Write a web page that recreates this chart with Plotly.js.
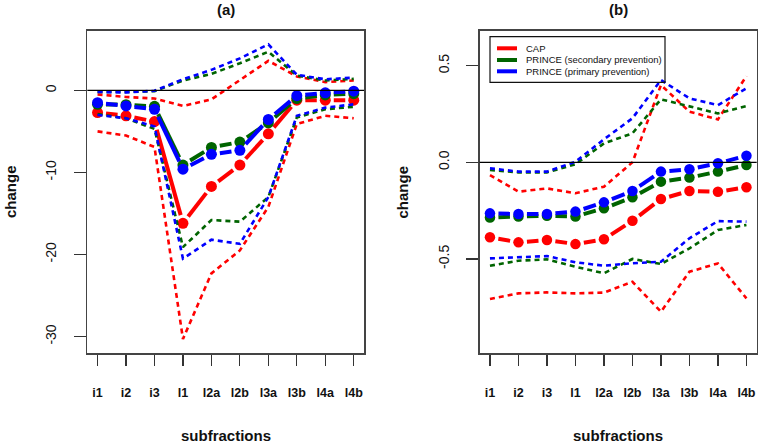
<!DOCTYPE html>
<html><head><meta charset="utf-8">
<script src="https://cdn.plot.ly/plotly-3.0.1.min.js"></script>
<style>html,body{margin:0;padding:0;background:#fff}#chart{width:759px;height:444px}</style>
</head><body><div id="chart"></div>
<script>
// ---------- data ----------
const subfractions = ['i1','i2','i3','l1','l2a','l2b','l3a','l3b','l4a','l4b'];
const seriesNames = ['CAP','PRINCE (secondary prevention)','PRINCE (primary prevention)'];
const seriesColors = ['#ff0000','#006400','#0000ff'];

// panel (a)
const a_cap_mean   = [-2.7, -3.1, -3.8, -16.2, -11.7, -9.1, -5.3, -1.2, -1.2, -1.2];
const a_cap_lo     = [-5.0, -5.5, -6.9, -30.3, -22.3, -19.5, -14.2, -4.1, -3.1, -3.4];
const a_cap_hi     = [-0.5, -0.8, -1.0, -1.9, -1.1, 1.3, 3.6, 1.7, 1.0, 1.2];
const a_sec_mean   = [-1.7, -1.75, -1.95, -9.1, -6.95, -6.3, -3.95, -1.0, -0.55, -0.4];
const a_sec_lo     = [-2.9, -3.4, -4.7, -19.1, -15.8, -16.0, -13.0, -3.3, -2.3, -2.0];
const a_sec_hi     = [-0.2, -0.2, -0.1, 1.2, 2.0, 3.3, 4.7, 1.8, 1.2, 1.4];
const a_pri_mean   = [-1.5, -1.9, -2.3, -9.6, -7.8, -7.3, -3.55, -0.65, -0.3, -0.1];
const a_pri_lo     = [-3.0, -3.4, -4.4, -20.5, -18.2, -18.7, -13.0, -3.1, -2.1, -1.7];
const a_pri_hi     = [-0.2, -0.25, -0.05, 1.35, 2.5, 3.9, 5.6, 1.9, 1.35, 1.55];

// panel (b)
const b_cap_mean   = [-0.388, -0.414, -0.402, -0.423, -0.398, -0.302, -0.190, -0.148, -0.152, -0.129];
const b_cap_lo     = [-0.707, -0.678, -0.673, -0.678, -0.674, -0.618, -0.773, -0.566, -0.523, -0.704];
const b_cap_hi     = [-0.066, -0.152, -0.135, -0.160, -0.126, 0.0, 0.40, 0.262, 0.222, 0.446];
const b_sec_mean   = [-0.285, -0.280, -0.276, -0.280, -0.238, -0.181, -0.100, -0.079, -0.048, -0.014];
const b_sec_lo     = [-0.535, -0.509, -0.502, -0.540, -0.574, -0.500, -0.526, -0.445, -0.350, -0.324];
const b_sec_hi     = [-0.040, -0.052, -0.052, -0.010, 0.098, 0.150, 0.326, 0.288, 0.253, 0.291];
const b_pri_mean   = [-0.264, -0.267, -0.267, -0.255, -0.207, -0.148, -0.048, -0.036, -0.005, 0.034];
const b_pri_lo     = [-0.497, -0.492, -0.485, -0.517, -0.535, -0.522, -0.514, -0.393, -0.304, -0.307];
const b_pri_hi     = [-0.031, -0.048, -0.048, 0.003, 0.119, 0.228, 0.426, 0.331, 0.296, 0.383];

const a_ytickvals = [-30, -20, -10, 0];
const a_yticktext = ['-30', '-20', '-10', '0'];
const b_ytickvals = [-0.5, 0, 0.5];
const b_yticktext = ['-0.5', '0.0', '0.5'];

// ---------- layout geometry ----------
const W = 759, H = 444;
const FONT = 'Liberation Sans, Arial, Helvetica, sans-serif';
const panelA = {x0: 87.3, x1: 364.0, y0: 30.7, y1: 353.3, xr: [0.64, 10.36], yr: [-32.04, 7.27]};
const panelB = {x0: 479.7, x1: 756.7, y0: 30.7, y1: 353.3, xr: [0.64, 10.36], yr: [-0.988, 0.681]};

const xpos = subfractions.map((_, i) => i + 1);

// segments of a mean line with gaps around points (like R type="b")
function gapped(ys, p, g) {
  const sx = (p.x1 - p.x0) / (p.xr[1] - p.xr[0]);
  const sy = (p.y1 - p.y0) / (p.yr[1] - p.yr[0]);
  const X = [], Y = [];
  for (let i = 0; i < ys.length - 1; i++) {
    const xa = xpos[i], xb = xpos[i + 1], ya = ys[i], yb = ys[i + 1];
    const L = Math.hypot((xb - xa) * sx, (yb - ya) * sy);
    if (L <= 2 * g) continue;
    const t = g / L;
    X.push(xa + t * (xb - xa), xb - t * (xb - xa), null);
    Y.push(ya + t * (yb - ya), yb - t * (yb - ya), null);
  }
  return {X, Y};
}

const traces = [];
function addPanel(groups, p, xa, ya, msize) {
  groups.forEach((gr, k) => {
    const col = seriesColors[k];
    [gr.lo, gr.hi].forEach(v => traces.push({
      x: xpos, y: v, xaxis: xa, yaxis: ya, type: 'scatter', mode: 'lines',
      line: {color: col, width: 2.6, dash: '5px,4px'}, hoverinfo: 'skip'
    }));
    const s = gapped(gr.mean, p, 8.5);
    traces.push({x: s.X, y: s.Y, xaxis: xa, yaxis: ya, type: 'scatter', mode: 'lines',
      line: {color: col, width: 4}, connectgaps: false, hoverinfo: 'skip'});
    traces.push({x: xpos, y: gr.mean, xaxis: xa, yaxis: ya, type: 'scatter', mode: 'markers',
      marker: {color: col, size: msize, line: {width: 0}}, name: seriesNames[k]});
  });
}
addPanel([
  {mean: a_cap_mean, lo: a_cap_lo, hi: a_cap_hi},
  {mean: a_sec_mean, lo: a_sec_lo, hi: a_sec_hi},
  {mean: a_pri_mean, lo: a_pri_lo, hi: a_pri_hi}
], panelA, 'x', 'y', 11);
addPanel([
  {mean: b_cap_mean, lo: b_cap_lo, hi: b_cap_hi},
  {mean: b_sec_mean, lo: b_sec_lo, hi: b_sec_hi},
  {mean: b_pri_mean, lo: b_pri_lo, hi: b_pri_hi}
], panelB, 'x2', 'y2', 10.5);

function xaxisFor(p) {
  return {
    domain: [p.x0 / W, p.x1 / W], range: p.xr, fixedrange: true,
    tickmode: 'array', tickvals: xpos, ticktext: subfractions,
    ticks: 'outside', ticklen: 11, tickwidth: 1.2, tickcolor: '#333',
    showline: true, mirror: true, linecolor: '#444', linewidth: 1.5,
    showgrid: false, zeroline: false, ticklabelstandoff: 16,
    tickfont: {family: FONT, size: 12.5, weight: 'bold', color: '#111'}
  };
}
function yaxisFor(p, tv, tt) {
  return {
    domain: [1 - p.y1 / H, 1 - p.y0 / H], range: p.yr, fixedrange: true,
    tickmode: 'array', tickvals: tv, ticktext: tt, tickangle: -90,
    ticks: 'outside', ticklen: 12, tickwidth: 1.2, tickcolor: '#333',
    showline: true, mirror: true, linecolor: '#444', linewidth: 1.5,
    showgrid: false, zeroline: false, ticklabelstandoff: 12,
    tickfont: {family: FONT, size: 14, color: '#111'}
  };
}

const ann = [];
const shapes = [];
function txt(text, px, py, size, bold, angle, xanchor) {
  ann.push({text, x: px / W, y: 1 - py / H, xref: 'paper', yref: 'paper', showarrow: false,
    xanchor: xanchor || 'center', yanchor: 'middle', textangle: angle || 0,
    font: {family: FONT, size, weight: bold ? 'bold' : 'normal', color: '#111'}});
}
[panelA, panelB].forEach((p, i) => {
  const cx = (p.x0 + p.x1) / 2, cy = (p.y0 + p.y1) / 2;
  txt(i === 0 ? '(a)' : '(b)', cx, 9, 15, true);
  txt('subfractions', cx, 435, 15, true);
  txt('change', i === 0 ? 10 : 401.5, cy, 15, true, -90);
  shapes.push({type: 'line', xref: i === 0 ? 'x domain' : 'x2 domain', yref: i === 0 ? 'y' : 'y2',
    x0: 0, x1: 1, y0: 0, y1: 0, line: {color: '#000', width: 1.3}});
});

// legend in panel (b)
const legBox = {x0: 490, x1: 665, y0: 36.7, y1: 82.3};
shapes.push({type: 'rect', xref: 'paper', yref: 'paper', x0: legBox.x0 / W, x1: legBox.x1 / W,
  y0: 1 - legBox.y1 / H, y1: 1 - legBox.y0 / H, line: {color: '#111', width: 1.2}, fillcolor: 'rgba(0,0,0,0)'});
const legRows = [48.3, 60, 71.3];
seriesNames.forEach((nm, k) => {
  shapes.push({type: 'line', xref: 'paper', yref: 'paper', x0: 497 / W, x1: 517 / W,
    y0: 1 - legRows[k] / H, y1: 1 - legRows[k] / H, line: {color: seriesColors[k], width: 4}});
  txt(nm, 524, legRows[k], 9.5, false, 0, 'left');
});

const layout = {
  width: W, height: H, margin: {l: 0, r: 0, t: 0, b: 0}, showlegend: false,
  paper_bgcolor: '#fff', plot_bgcolor: '#fff',
  xaxis: xaxisFor(panelA), yaxis: yaxisFor(panelA, a_ytickvals, a_yticktext),
  xaxis2: Object.assign(xaxisFor(panelB), {anchor: 'y2'}),
  yaxis2: Object.assign(yaxisFor(panelB, b_ytickvals, b_yticktext), {anchor: 'x2'}),
  annotations: ann, shapes: shapes
};
layout.xaxis.anchor = 'y';
layout.yaxis.anchor = 'x';

Plotly.newPlot('chart', traces, layout, {staticPlot: true, displayModeBar: false});
</script>
</body></html>
